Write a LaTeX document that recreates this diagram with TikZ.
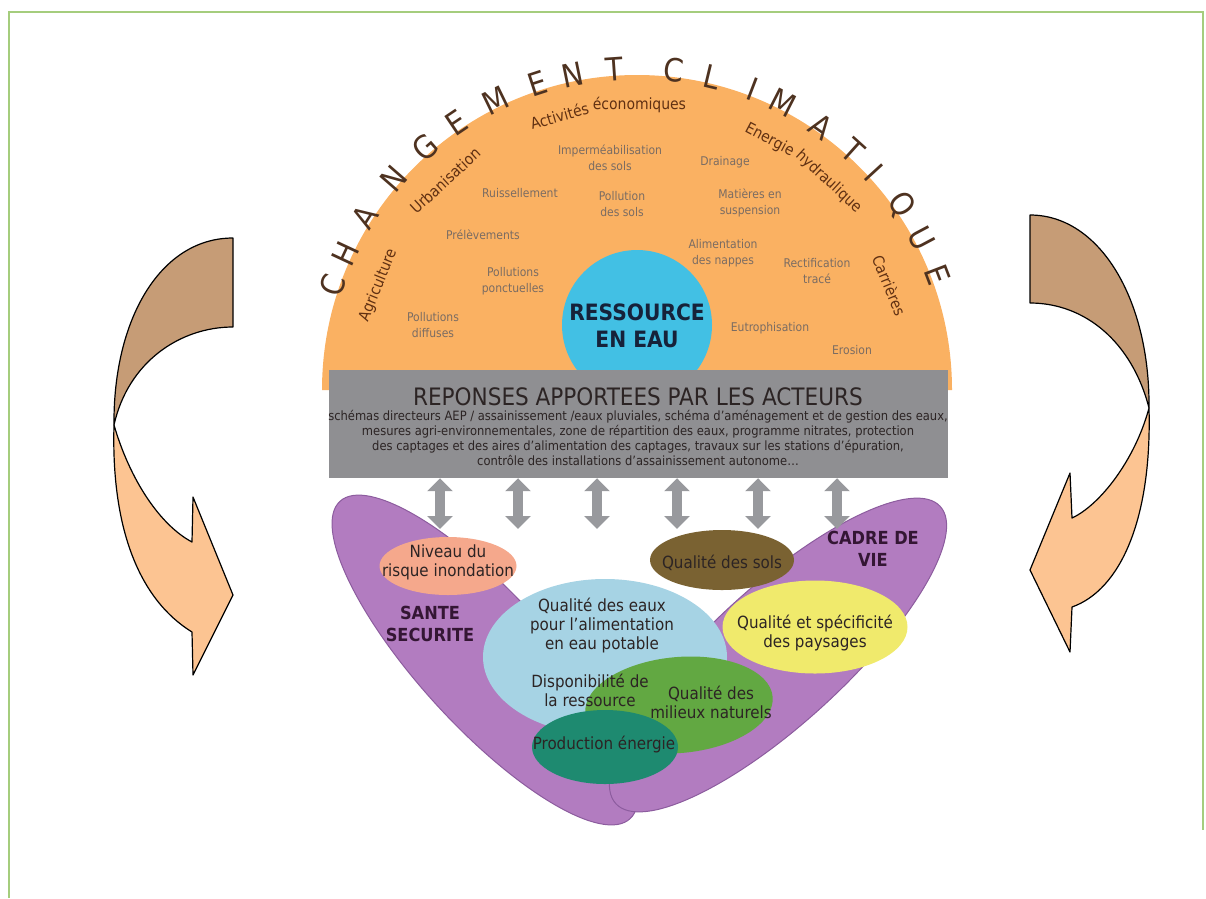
\documentclass[tikz,border=0pt]{standalone}
\usepackage{fontspec}
\setmainfont{DejaVu Sans Condensed}
\usetikzlibrary{arrows.meta,positioning,shapes.geometric}
\definecolor{cadre}{RGB}{165,205,125}
\definecolor{orangedisque}{RGB}{250,177,98}
\definecolor{bleueau}{RGB}{66,192,228}
\definecolor{grisrep}{RGB}{143,143,146}
\definecolor{grisfleche}{RGB}{152,153,157}
\definecolor{violet}{RGB}{178,124,192}
\definecolor{violetbord}{RGB}{140,92,158}
\definecolor{brunlettre}{RGB}{78,50,32}
\definecolor{brunlabel}{RGB}{96,48,18}
\definecolor{grisfacteur}{RGB}{122,108,98}
\definecolor{saumon}{RGB}{245,168,140}
\definecolor{bleuclair}{RGB}{166,211,228}
\definecolor{olive}{RGB}{122,98,50}
\definecolor{jaune}{RGB}{240,234,108}
\definecolor{vert}{RGB}{98,168,66}
\definecolor{sarcelle}{RGB}{30,138,112}
\definecolor{brunfleche}{RGB}{198,156,118}
\definecolor{orangefleche}{RGB}{252,196,146}
\definecolor{encre}{RGB}{44,36,36}
\definecolor{pourpre}{RGB}{52,22,52}
\definecolor{marine}{RGB}{22,34,58}
\tikzset{
  lettre/.style={font=\fontsize{32}{32}\selectfont, text=brunlettre, inner sep=0pt},
  secteur/.style={font=\fontsize{15.5}{15.5}\selectfont, text=brunlabel, inner sep=0pt},
  facteur/.style={align=center, font=\fontsize{12}{16}\selectfont, text=grisfacteur, inner sep=0pt},
  bulle/.style={ellipse, inner sep=0pt},
  lobe/.style={bulle, fill=violet, draw=violetbord, line width=1pt},
  enjeu/.style={align=center, font=\fontsize{16.8}{19}\selectfont, text=encre, inner sep=0pt},
  theme/.style={align=center, font=\bfseries\fontsize{18}{22}\selectfont, text=pourpre, inner sep=0pt},
  dbl/.style={<->, >={Triangle[length=13pt,width=25pt]}, line width=10pt, draw=grisfleche},
  ruban/.style={draw=black, line width=1.2pt, line join=round},
}
\begin{document}
\begin{tikzpicture}[x=1pt, y=1pt]
  \useasboundingbox (0,0) rectangle (1206,-898);
  \draw[cadre, line width=1.2pt] (9,-898) -- (9,-12) -- (1203,-12) -- (1203,-830);

  \coordinate (O) at (637,-390);
  \fill[orangedisque] (322,-390) arc[start angle=180, end angle=0, radius=315] -- cycle;
  \node[circle, fill=bleueau, minimum size=150, inner sep=0pt] (eau) at (637,-325) {};
  \node[align=center, font=\bfseries\fontsize{22.5}{27}\selectfont, text=marine] (teau) at (637,-326) {RESSOURCE\\EN EAU};

  \foreach \l/\a [count=\i] in {C/161,H/155,A/147.5,N/139,G/131,E/124,M/116,E/108,N/101.5,T/94,C/83.5,L/76.5,I/69,M/63,A/55,T/48,I/42.5,Q/35,U/28,E/21}
    \node[lettre, rotate=\a-90] (lettre\i) at ([shift={(\a:322)}]O) {\l};

  \foreach \t/\a/\r [count=\i] in {Agriculture/158/279, Urbanisation/132.5/284, Activités/105.8/285,
      économiques/89.5/285, Energie/62.1/283, hydraulique/47.4/283, Carrières/22.5/273}
    \node[secteur, rotate=\a-90] (secteur\i) at ([shift={(\a:\r)}]O) {\t};

  \foreach \p/\t [count=\i] in {
      {610,-158}/{Imperméabilisation\\des sols},
      {520,-193}/{Ruissellement},
      {622,-204}/{Pollution\\des sols},
      {483,-235}/{Prélèvements},
      {513,-281}/{Pollutions\\ponctuelles},
      {433,-325}/{Pollutions\\diffuses},
      {725,-162}/{Drainage},
      {750,-203}/{Matières en\\suspension},
      {723,-253}/{Alimentation\\des nappes},
      {817,-271}/{Rectification\\tracé},
      {770,-328}/{Eutrophisation},
      {852,-350}/{Erosion}}
    \node[facteur] (fact\i) at (\p) {\t};

  \node[fill=grisrep, minimum width=619, minimum height=108, inner sep=0pt] (rep) at (638.5,-424) {};
  \node[font=\fontsize{24}{24}\selectfont, text=encre, inner sep=0pt] (reptitre) at (638,-397) {REPONSES APPORTEES PAR LES ACTEURS};
  \node[align=center, font=\fontsize{12.8}{14.8}\selectfont, text=encre, inner sep=0pt] (repcorps) at (638,-438)
    {schémas directeurs AEP / assainissement /eaux pluviales, schéma d’aménagement et de gestion des eaux,\\
     mesures agri-environnementales, zone de répartition des eaux, programme nitrates, protection\\
     des captages et des aires d’alimentation des captages, travaux sur les stations d’épuration,\\
     contrôle des installations d’assainissement autonome…};

  \node[lobe, minimum width=430, minimum height=132, rotate=-47.6] (sante) at (485,-660) {};
  \node[lobe, minimum width=440, minimum height=136, rotate=42.5] (cadrevie) at (778,-655) {};

  \foreach \x [count=\i] in {440,518,597,677,758,837} {
    \coordinate (bas\i) at (\x,-529);
    \draw[dbl] (rep.south -| bas\i) -- (bas\i);
  }

  \node[bulle, fill=bleuclair, minimum width=244, minimum height=156] (potable) at (605,-657) {};
  \node[bulle, fill=olive, minimum width=144, minimum height=60] (sols) at (722,-560) {};
  \node[bulle, fill=jaune, minimum width=185, minimum height=93] (paysages) at (815,-627) {};
  \node[bulle, fill=saumon, minimum width=137, minimum height=58] (inond) at (448,-566) {};
  \node[bulle, fill=vert, minimum width=188, minimum height=96, rotate=5] (milieux) at (679,-705) {};
  \node[bulle, fill=sarcelle, minimum width=146, minimum height=74] (energie) at (605,-747) {};

  \node[enjeu] (tinond) at (448,-562) {Niveau du\\risque inondation};
  \node[enjeu] (tpotable) at (602,-626) {Qualité des eaux\\pour l’alimentation\\en eau potable};
  \node[enjeu] (tdispo) at (590,-690) {Disponibilité de\\la ressource};
  \node[enjeu] (tsols) at (722,-563) {Qualité des sols};
  \node[enjeu] (tpaysages) at (815,-633) {Qualité et spécificité\\des paysages};
  \node[enjeu] (tmilieux) at (711,-702) {Qualité des\\milieux naturels};
  \node[enjeu] (tenergie) at (604,-745) {Production énergie};
  \node[theme] (tsante) at (430,-624) {SANTE\\SECURITE};
  \node[theme] (tcadre) at (873,-549) {CADRE DE\\VIE};

  \filldraw[ruban, fill=brunfleche] (233,-238) .. controls (160,-238) and (113,-320) .. (114,-425)
    .. controls (128,-362) and (180,-327) .. (233,-327) -- cycle;
  \filldraw[ruban, fill=orangefleche] (114,-425) .. controls (130,-480) and (160,-525) .. (192,-542)
    -- (193,-497) -- (233,-595) -- (193,-675) -- (192,-632)
    .. controls (140,-600) and (111,-530) .. (114,-425) -- cycle;

  \filldraw[ruban, fill=brunfleche] (1030,-215) .. controls (1100,-215) and (1150,-300) .. (1149,-408)
    .. controls (1132,-342) and (1085,-303) .. (1030,-303) -- cycle;
  \filldraw[ruban, fill=orangefleche] (1149,-408) .. controls (1135,-460) and (1100,-505) .. (1072,-518)
    -- (1070,-473) -- (1030,-570) -- (1070,-652) -- (1072,-607)
    .. controls (1120,-590) and (1152,-520) .. (1149,-408) -- cycle;
\end{tikzpicture}
\end{document}
